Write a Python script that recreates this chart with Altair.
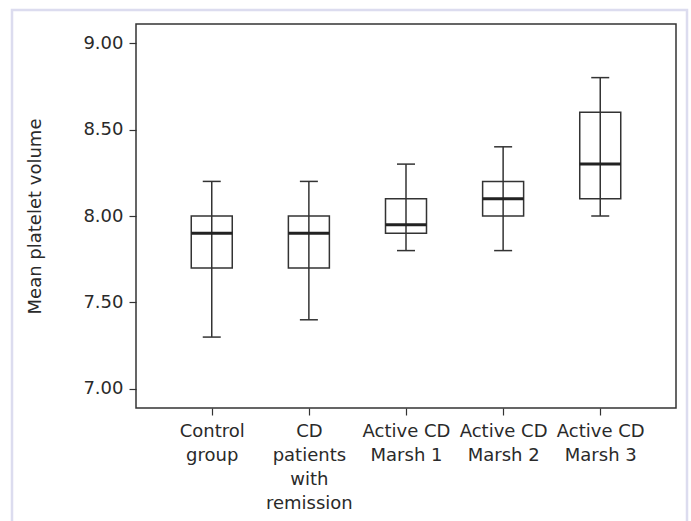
import altair as alt
import pandas as pd

# ---- data ----
groups = [
    "Control\ngroup",
    "CD\npatients\nwith\nremission",
    "Active CD\nMarsh 1",
    "Active CD\nMarsh 2",
    "Active CD\nMarsh 3",
]
minimum = [7.30, 7.40, 7.80, 7.80, 8.00]
q1 = [7.70, 7.70, 7.90, 8.00, 8.10]
median = [7.90, 7.90, 7.95, 8.10, 8.30]
q3 = [8.00, 8.00, 8.10, 8.20, 8.60]
maximum = [8.20, 8.20, 8.30, 8.40, 8.80]
y_ticks = [7.0, 7.5, 8.0, 8.5, 9.0]
y_title = "Mean platelet volume"

df = pd.DataFrame(dict(group=groups, lo=minimum, q1=q1, med=median, q3=q3, hi=maximum))

INK = "#333333"
TEXT = "#2a2a2a"
FONT = "DejaVu Sans"

x_enc = alt.X(
    "group:N",
    sort=groups,
    scale=alt.Scale(type="point", padding=0.78),
    axis=alt.Axis(
        title=None,
        labelAngle=0,
        labelExpr="split(datum.label, '\\n')",
        labelLineHeight=24,
        labelFont=FONT,
        labelFontSize=18,
        labelColor=TEXT,
        labelPadding=7,
        labelAlign="center",
        labelBaseline="top",
        tickSize=7,
        tickColor=INK,
        tickWidth=1.2,
        domain=False,
        grid=False,
    ),
)

y_scale = alt.Scale(domain=[6.89, 9.11], nice=False, zero=False)


def y_enc(field, with_axis=False):
    if with_axis:
        return alt.Y(
            field,
            scale=y_scale,
            axis=alt.Axis(
                values=y_ticks,
                format=".2f",
                title=y_title,
                titleFont=FONT,
                titleFontSize=18,
                titleFontWeight="normal",
                titleColor=TEXT,
                titleX=-101,
                titleBaseline="middle",
                labelFont=FONT,
                labelFontSize=18,
                labelColor=TEXT,
                labelPadding=6,
                tickSize=7,
                tickColor=INK,
                tickWidth=1.2,
                domain=False,
                grid=False,
            ),
        )
    return alt.Y(field, scale=y_scale)


base = alt.Chart(df)

boxes = base.mark_bar(size=41, fill="white", stroke=INK, strokeWidth=1.5).encode(
    x=x_enc, y=y_enc("q1:Q", True), y2="q3:Q"
)
whiskers = base.mark_rule(color=INK, strokeWidth=1.5).encode(
    x=x_enc, y=y_enc("lo:Q"), y2="hi:Q"
)
cap_lo = base.mark_tick(size=18, thickness=1.5, color=INK, opacity=1).encode(
    x=x_enc, y=y_enc("lo:Q")
)
cap_hi = base.mark_tick(size=18, thickness=1.5, color=INK, opacity=1).encode(
    x=x_enc, y=y_enc("hi:Q")
)
medians = base.mark_tick(size=41, thickness=3, color="#222222", opacity=1).encode(
    x=x_enc, y=y_enc("med:Q")
)

# decorative page frame (outer lavender border of the figure)
frame = alt.Chart(pd.DataFrame({"k": [0]})).mark_rect(
    fillOpacity=0, stroke="#dcdcef", strokeWidth=2.5
).encode(
    x=alt.value(-124), x2=alt.value(551), y=alt.value(-14), y2=alt.value(530)
)

chart = (
    alt.layer(frame, boxes, whiskers, cap_lo, cap_hi, medians)
    .properties(
        width=540,
        height=384,
        autosize=alt.AutoSizeParams(type="none"),
        padding={"left": 136, "top": 24, "right": 15, "bottom": 113},
        background="white",
    )
    .configure_view(stroke=INK, strokeWidth=1.5)
)

chart.save("out.html", embed_options={"renderer": "svg", "actions": False})
